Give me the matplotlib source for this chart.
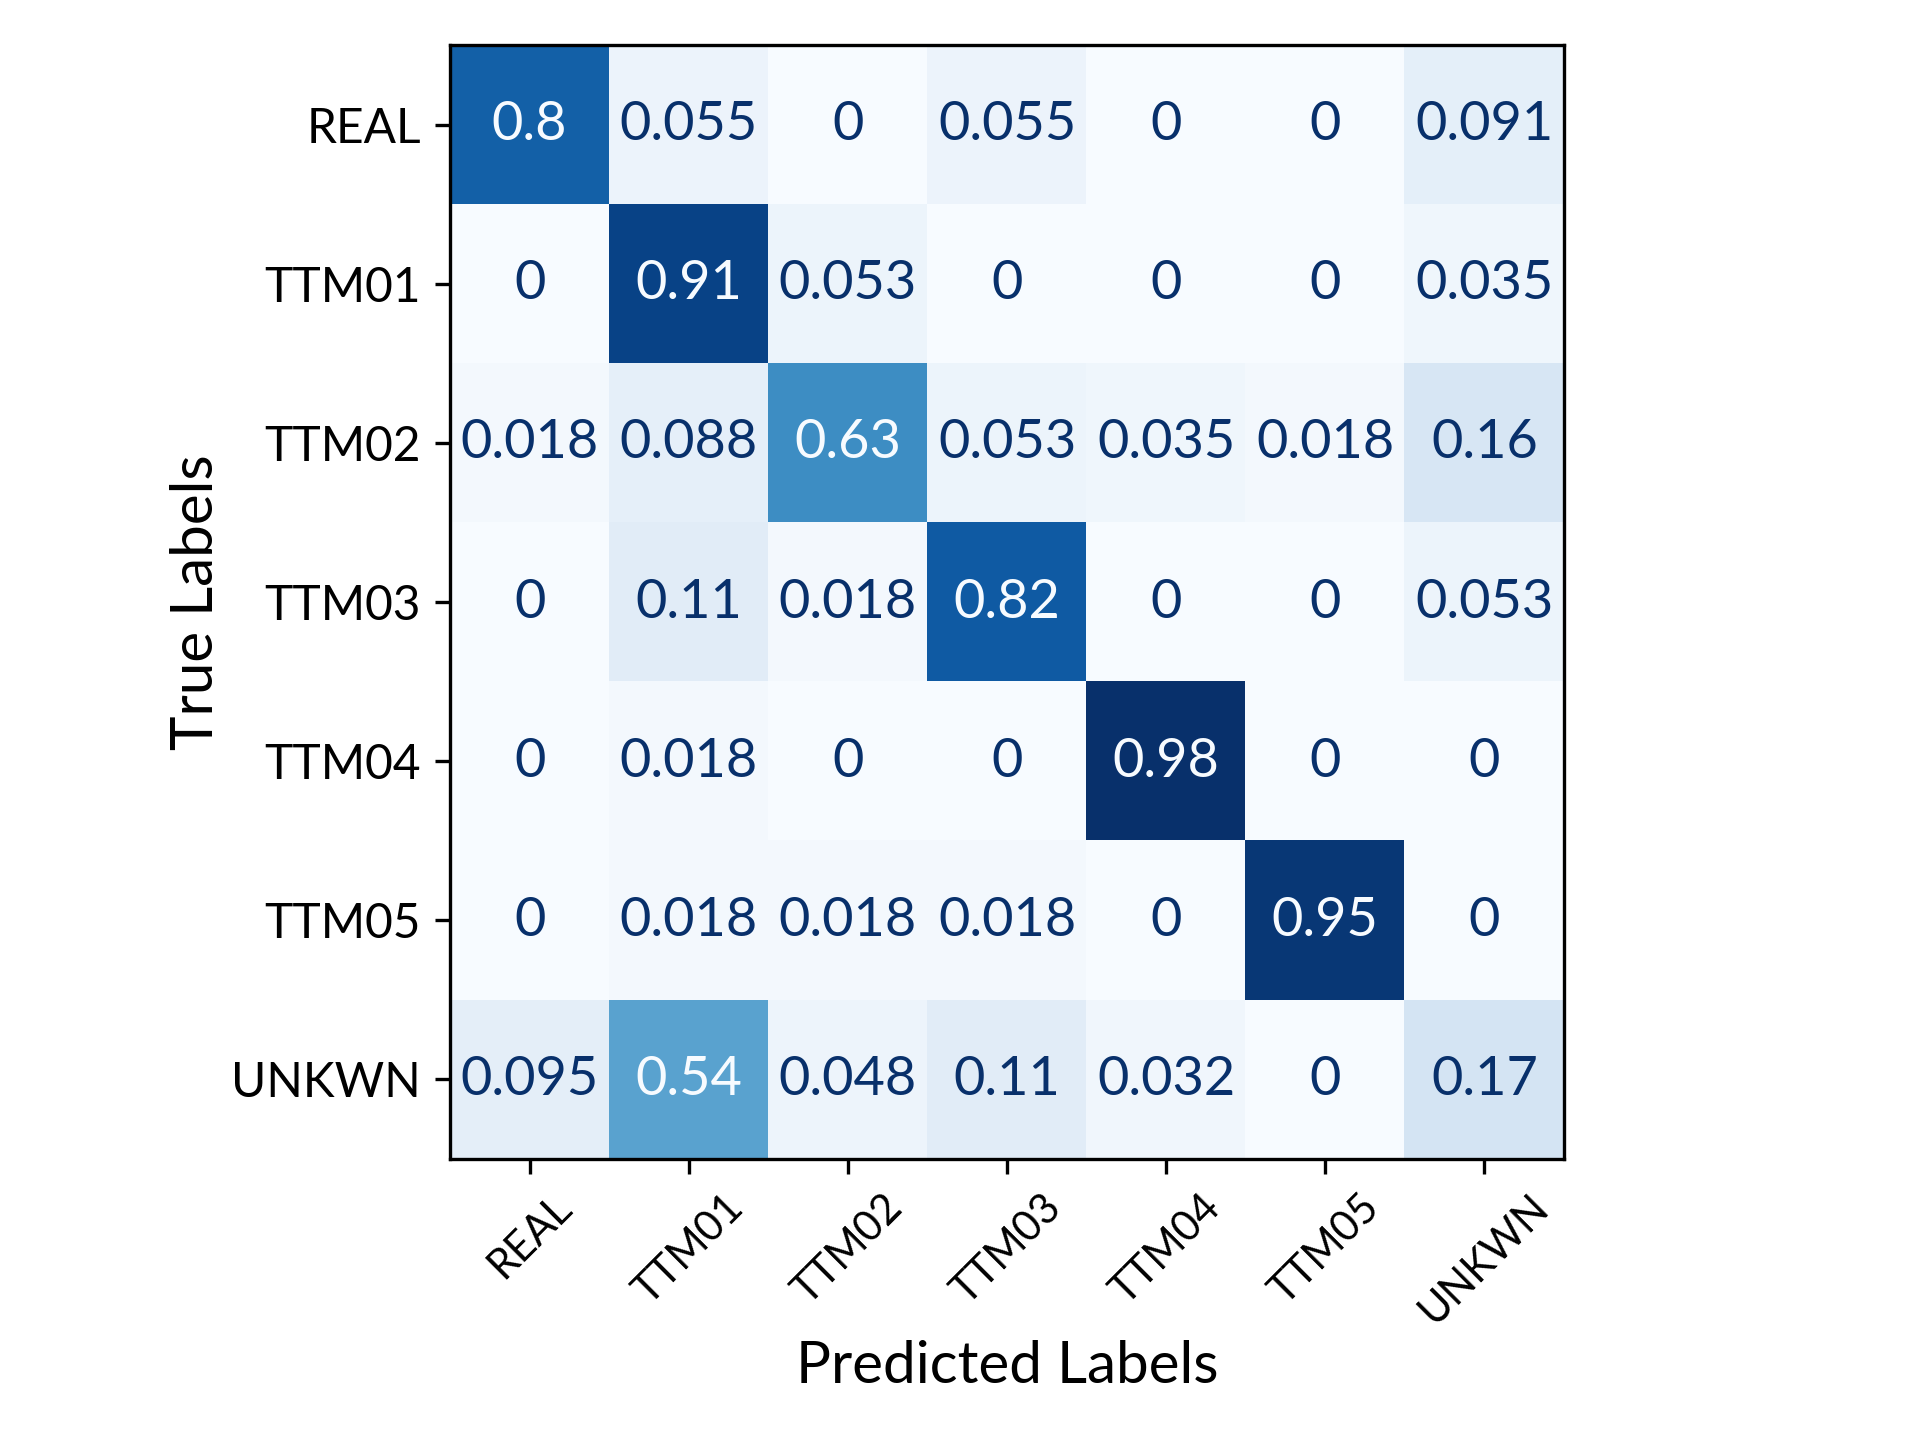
import numpy as np
import matplotlib
matplotlib.use("Agg")
import matplotlib.pyplot as plt

plt.rcParams["font.family"] = ["Lato", "DejaVu Sans"]

labels = ["REAL", "TTM01", "TTM02", "TTM03", "TTM04", "TTM05", "UNKWN"]

row_real = [0.8, 0.055, 0, 0.055, 0, 0, 0.091]
row_ttm01 = [0, 0.91, 0.053, 0, 0, 0, 0.035]
row_ttm02 = [0.018, 0.088, 0.63, 0.053, 0.035, 0.018, 0.16]
row_ttm03 = [0, 0.11, 0.018, 0.82, 0, 0, 0.053]
row_ttm04 = [0, 0.018, 0, 0, 0.98, 0, 0]
row_ttm05 = [0, 0.018, 0.018, 0.018, 0, 0.95, 0]
row_unkwn = [0.095, 0.54, 0.048, 0.11, 0.032, 0, 0.17]

cm = np.array([row_real, row_ttm01, row_ttm02, row_ttm03,
               row_ttm04, row_ttm05, row_unkwn])

fig = plt.figure(figsize=(6.4, 4.8), dpi=300)
ax = fig.add_axes([450 / 1920, 1 - 1159 / 1440, 1114 / 1920, 1114 / 1440])

cmap = plt.get_cmap("Blues")
ax.imshow(cm, cmap=cmap, interpolation="nearest")

# same rule as sklearn's ConfusionMatrixDisplay
thresh = (cm.max() + cm.min()) / 2.0
for i in range(cm.shape[0]):
    for j in range(cm.shape[1]):
        color = cmap(0.0) if cm[i, j] >= thresh else cmap(1.0)
        ax.text(j, i, format(cm[i, j], ".2g"), ha="center", va="center",
                color=color, fontsize=13)

ax.set_xticks(np.arange(len(labels)))
ax.set_yticks(np.arange(len(labels)))
ax.set_xticklabels(labels, rotation=45, fontsize=10)
ax.set_yticklabels(labels, fontsize=11.5)
ax.set_xlabel("Predicted Labels", fontsize=14, labelpad=2)
ax.set_ylabel("True Labels", fontsize=14, labelpad=2)

fig.savefig("out.png", dpi=300)
